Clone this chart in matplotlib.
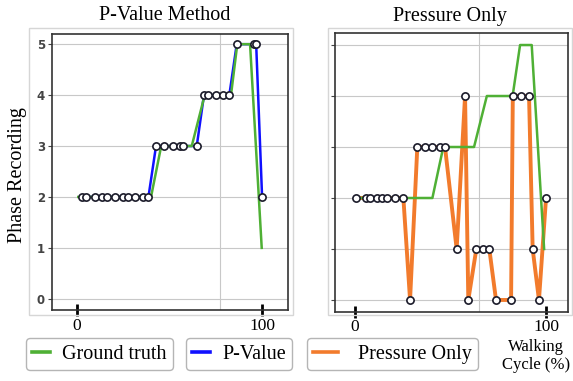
import numpy as np
import matplotlib.pyplot as plt
from matplotlib.lines import Line2D
from matplotlib.patches import Rectangle

# ground truth phases (step profile)
gt_left_x = [0.7, 40.0, 45.5, 62.0, 69.0, 83.2, 86.6, 93.5, 99.8]
gt_left_y = [2, 2, 3, 3, 4, 4, 5, 5, 1]
gt_right_x = [2.6, 40.5, 46.2, 62.3, 69.0, 82.5, 86.4, 92.5, 99.0]
gt_right_y = [2, 2, 3, 3, 4, 4, 5, 5, 1]

# P-value method estimate
pv_x = [2.5, 4.9, 9.7, 13.4, 16.1, 20.5, 25.0, 27.7, 31.4, 35.9, 38.6,
        42.7, 47.0, 51.7, 55.7, 57.5, 64.7,
        68.6, 71.0, 75.0, 78.8, 82.3,
        86.3, 95.7, 96.8, 100.0]
pv_y = [2, 2, 2, 2, 2, 2, 2, 2, 2, 2, 2,
        3, 3, 3, 3, 3, 3,
        4, 4, 4, 4, 4,
        5, 5, 5, 2]

# pressure only estimate
po_x = [0.5, 5.6, 7.9, 11.4, 14.3, 16.6, 20.9, 25.3, 28.8, 32.6, 36.6, 40.5,
        44.5, 47.1, 53.2, 57.6, 59.3, 63.5, 67.2, 70.3, 73.8, 81.7, 82.6,
        86.9, 91.1, 93.0, 96.3, 100.0]
po_y = [2, 2, 2, 2, 2, 2, 2, 2, 0, 3, 3, 3,
        3, 3, 1, 4, 0, 1, 1, 1, 0, 0, 4,
        4, 4, 1, 0, 2]

yticks = [0, 1, 2, 3, 4, 5]
xticks = [0, 100]

c_gt = '#4fb035'
c_pv = '#1010ff'
c_po = '#f27b2c'
serif = 'Liberation Serif'

fig = plt.figure(figsize=(5.73, 3.81), dpi=100)

# light outer frames around each panel
for x0, x1 in [(29, 293), (328, 572)]:
    fig.patches.append(Rectangle((x0 / 573, 1 - 315 / 381), (x1 - x0) / 573,
                                 (315 - 28) / 381, transform=fig.transFigure,
                                 fill=False, edgecolor='#d6d6d6', lw=1.0))

ax1 = fig.add_axes([52 / 573, 1 - 310 / 381, 236 / 573, 276 / 381])
ax2 = fig.add_axes([335 / 573, 1 - 311.7 / 381, 233 / 573, 278.4 / 381])

mk = dict(marker='o', ms=5.2, mfc='white', mec='#1b1b2a', mew=1.2)

ax1.plot(pv_x, pv_y, '-', color=c_pv, lw=1.8, zorder=3)
ax1.plot(gt_left_x, gt_left_y, '-', color=c_gt, lw=1.8, zorder=4)
ax1.plot(pv_x, pv_y, ls='none', zorder=5, **mk)
ax1.set_xlim(-13.5, 114)
ax1.set_ylim(-0.22, 5.2)
ax1.axvline(77.3, color='#c8c8c8', lw=0.8, zorder=0)

ax2.plot(po_x, po_y, '-', color=c_po, lw=2.8, zorder=3)
ax2.plot(gt_right_x, gt_right_y, '-', color=c_gt, lw=1.8, zorder=4)
ax2.plot(po_x, po_y, ls='none', zorder=5, **mk)
ax2.set_xlim(-10.5, 111.5)
ax2.set_ylim(-0.23, 5.23)
ax2.axvline(65, color='#c8c8c8', lw=0.8, zorder=0)

for ax in (ax1, ax2):
    ax.set_yticks(yticks)
    ax.set_xticks(xticks)
    ax.yaxis.grid(True, color='#c8c8c8', lw=0.8)
    ax.set_axisbelow(True)
    for s in ax.spines.values():
        s.set_color('#333333')
        s.set_linewidth(1.2)
    ax.tick_params(axis='x', direction='inout', length=8, width=2.0,
                   color='black', pad=1.5, labelsize=12.5)
    ax.tick_params(axis='y', direction='out', length=3, width=0.8,
                   color='#444444', pad=2, labelsize=8.5, labelcolor='#444444')
    for t in ax.xaxis.get_major_ticks():
        t.tick1line.set_zorder(10)
        t.tick1line.set_clip_on(False)
    for lab in ax.get_xticklabels():
        lab.set_family(serif)
    for lab in ax.get_yticklabels():
        lab.set_fontweight('bold')

ax2.set_yticklabels([])

fig.text(165 / 573, 1 - 16 / 381, 'P-Value Method', family=serif, fontsize=14.5,
         ha='center', va='center')
fig.text(450 / 573, 1 - 16 / 381, 'Pressure Only', family=serif, fontsize=14.5,
         ha='center', va='center')
fig.text(18 / 573, 1 - 175 / 381, 'Phase Recording', family=serif, fontsize=14.5,
         ha='center', va='center', rotation=90)
fig.text(570 / 573, 1 - 356 / 381, 'Walking\nCycle (%)', family=serif,
         fontsize=12, ha='right', va='center', multialignment='center',
         linespacing=1.1)

legends = [
    ('Ground truth', c_gt, 99.5, 0.9, 0.6),
    ('P-Value', c_pv, 239, 0.9, 0.6),
    ('Pressure Only', c_po, 392.5, 1.25, 1.0),
]
for name, col, cx, hl, htp in legends:
    h = Line2D([], [], color=col, lw=2.6)
    leg = fig.legend([h], [name], loc='center',
                     bbox_to_anchor=(cx / 573, 1 - 354 / 381),
                     prop={'family': serif, 'size': 14.5},
                     handlelength=hl, handletextpad=htp, borderpad=0.3,
                     borderaxespad=0, frameon=True, fancybox=True,
                     edgecolor='#b5b5b5', framealpha=1)
    leg.get_frame().set_linewidth(1.0)

fig.savefig('out.png', dpi=100)
